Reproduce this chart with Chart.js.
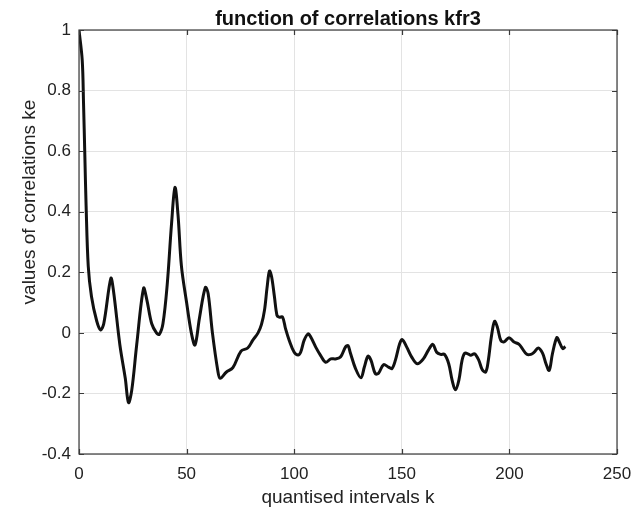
<!DOCTYPE html>
<html>
<head>
<meta charset="utf-8">
<script src="https://cdn.jsdelivr.net/npm/chart.js@4.4.1/dist/chart.umd.min.js"></script>
<style>
  html, body { margin: 0; padding: 0; background: #fff; }
  #wrap { width: 644px; height: 513px; }
</style>
</head>
<body>
<div id="wrap"><canvas id="corrChart"></canvas></div>
<script>
// values
const kValues = [0, 1.5, 2.1, 2.7, 3.3, 4.3, 5.8, 8.2, 10, 11.5, 14.8, 16, 19, 21.5, 23, 24.5, 26.8,
  30, 31.5, 33.8, 36, 37.3, 39, 41, 43, 44.6, 46, 47.6, 50, 52.2, 53.9, 56, 58.7, 60, 62, 64.5,
  65.6, 68.4, 71.5, 75.3, 78.4, 80.7, 83.2, 84.8, 86.2, 87.4, 88.5, 89.5, 90.8, 92, 93, 94.6, 96,
  97.7, 100, 101.8, 103, 104.6, 106.5, 107.7, 110, 112.3, 114.6, 117, 119.2, 121.5, 123.8, 125,
  126, 128.5, 131, 132.6, 134.3, 135.7, 137.7, 139.2, 141.5, 143.8, 145.4, 147, 149, 150.2, 152.3,
  154.6, 157.2, 160, 162.3, 164.4, 166.2, 168, 169.8, 171.8, 173.4, 174.9, 176.5, 178, 179.3,
  181.2, 182, 183.8, 185.8, 187.4, 189, 190.2, 191.6, 193.1, 194.4, 196, 197.5, 199.8, 202.2,
  204.5, 206, 208.1, 210, 211.5, 213.4, 215.4, 217, 218.5, 220, 222, 223.2, 224.8, 226];

const corrValues = [1.0, 0.9, 0.76, 0.59, 0.42, 0.22, 0.12, 0.04, 0.01, 0.03, 0.18, 0.14, -0.04,
  -0.15, -0.23, -0.19, -0.04, 0.147, 0.11, 0.03, 0.0, -0.005, 0.03, 0.16, 0.36, 0.48, 0.39, 0.22,
  0.1, 0.0, -0.04, 0.05, 0.15, 0.13, 0.0, -0.125, -0.15, -0.13, -0.115, -0.06, -0.05, -0.025, 0.0,
  0.028, 0.075, 0.15, 0.204, 0.185, 0.12, 0.058, 0.052, 0.052, 0.013, -0.025, -0.064, -0.073,
  -0.064, -0.025, -0.003, -0.014, -0.047, -0.075, -0.097, -0.086, -0.086, -0.08, -0.047, -0.042,
  -0.064, -0.118, -0.148, -0.113, -0.077, -0.091, -0.135, -0.133, -0.105, -0.113, -0.118, -0.091,
  -0.036, -0.022, -0.047, -0.08, -0.102, -0.086, -0.058, -0.038, -0.064, -0.071, -0.071, -0.102,
  -0.157, -0.188, -0.157, -0.091, -0.067, -0.071, -0.074, -0.069, -0.091, -0.122, -0.129, -0.091,
  -0.014, 0.038, 0.019, -0.025, -0.03, -0.016, -0.03, -0.038, -0.052, -0.071, -0.071, -0.064,
  -0.05, -0.067, -0.102, -0.124, -0.069, -0.016, -0.03, -0.052, -0.045];

const xTicks = [0, 50, 100, 150, 200, 250];
const yTicks = [-0.4, -0.2, 0, 0.2, 0.4, 0.6, 0.8, 1];

const chartTitle = 'function of correlations kfr3';
const xTitle = 'quantised intervals k';
const yTitle = 'values of correlations ke';

const FONT = '"Liberation Sans", Arial, Helvetica, sans-serif';

// matlab style box with inward ticks, plus title and y label
const boxPlugin = {
  id: 'boxPlugin',
  afterDatasetsDraw(chart) {
    const {ctx, chartArea: a, scales} = chart;
    ctx.save();
    ctx.strokeStyle = '#3a3a3a';
    ctx.lineWidth = 1.2;
    ctx.strokeRect(a.left, a.top, a.right - a.left, a.bottom - a.top);
    ctx.beginPath();
    scales.x.ticks.forEach(t => {
      const px = Math.round(scales.x.getPixelForValue(t.value)) + 0.5;
      ctx.moveTo(px, a.bottom); ctx.lineTo(px, a.bottom - 5);
      ctx.moveTo(px, a.top); ctx.lineTo(px, a.top + 5);
    });
    scales.y.ticks.forEach(t => {
      const py = Math.round(scales.y.getPixelForValue(t.value)) + 0.5;
      ctx.moveTo(a.left, py); ctx.lineTo(a.left + 5, py);
      ctx.moveTo(a.right, py); ctx.lineTo(a.right - 5, py);
    });
    ctx.stroke();

    // title centred over the axes
    ctx.fillStyle = '#111';
    ctx.font = 'bold 20px ' + FONT;
    ctx.textAlign = 'center';
    ctx.textBaseline = 'alphabetic';
    ctx.fillText(chartTitle, (a.left + a.right) / 2, 25);

    ctx.translate(35, 202);
    ctx.rotate(-Math.PI / 2);
    ctx.fillStyle = '#222';
    ctx.font = '19px ' + FONT;
    ctx.fillText(yTitle, 0, 0);
    ctx.restore();
  }
};

const config = {
  type: 'line',
  data: {
    datasets: [{
      data: kValues.map((k, i) => ({x: k, y: corrValues[i]})),
      borderColor: '#111',
      borderWidth: 3,
      pointRadius: 0,
      tension: 0.35,
      fill: false
    }]
  },
  options: {
    responsive: true,
    maintainAspectRatio: false,
    animation: false,
    layout: {padding: {left: 0, right: 27, top: 30, bottom: 0}},
    plugins: {
      legend: {display: false},
      tooltip: {enabled: false},
      title: {display: false}
    },
    scales: {
      x: {
        type: 'linear',
        min: 0,
        max: 250,
        afterFit: s => { s.height = 59; },
        afterBuildTicks: s => { s.ticks = xTicks.map(v => ({value: v})); },
        ticks: {color: '#222', font: {family: FONT, size: 17}, padding: 10, maxRotation: 0},
        grid: {color: '#e3e3e3', lineWidth: 1, drawTicks: false},
        border: {display: false},
        title: {display: true, text: xTitle, color: '#222',
          font: {family: FONT, size: 19}, padding: {top: 0, bottom: 4}}
      },
      y: {
        min: -0.4,
        max: 1,
        afterFit: s => { s.width = 79; },
        afterBuildTicks: s => { s.ticks = yTicks.map(v => ({value: v})); },
        ticks: {
          color: '#222',
          font: {family: FONT, size: 17},
          padding: 8,
          callback: v => String(+v.toFixed(1))
        },
        grid: {color: '#e3e3e3', lineWidth: 1, drawTicks: false},
        border: {display: false}
      }
    }
  },
  plugins: [boxPlugin]
};

new Chart(document.getElementById('corrChart'), config);
</script>
</body>
</html>
